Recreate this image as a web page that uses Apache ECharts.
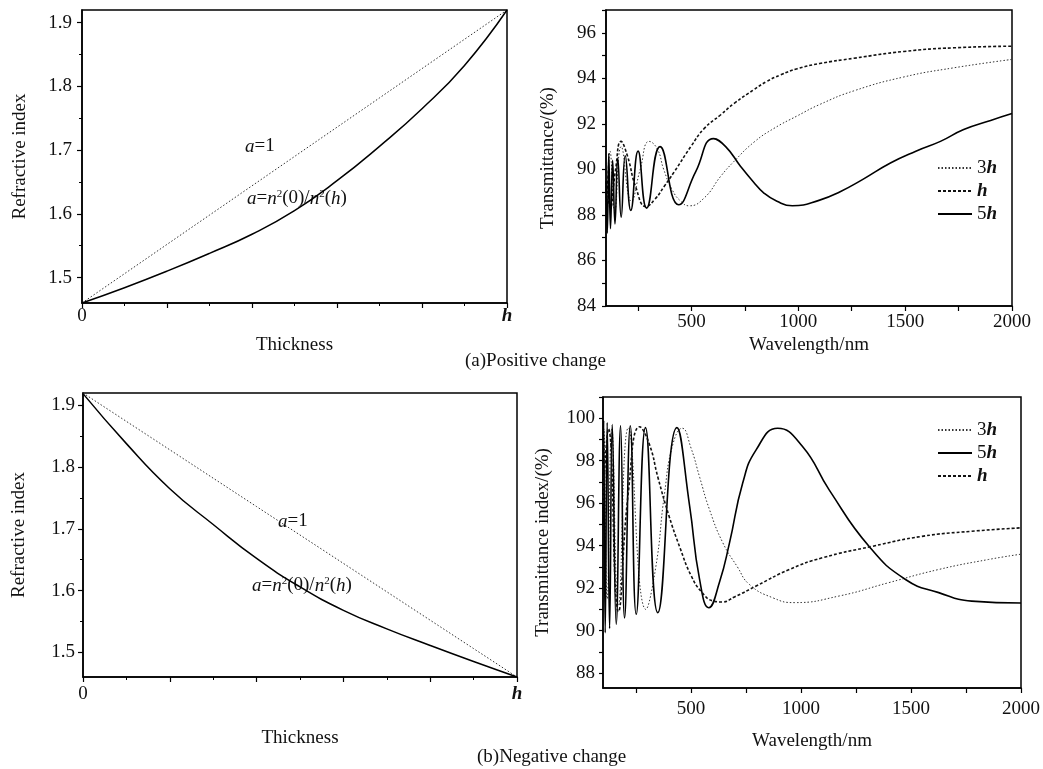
<!DOCTYPE html>
<html>
<head>
<meta charset="utf-8">
<script src="https://cdn.jsdelivr.net/npm/echarts@6/dist/echarts.min.js"></script>
<style>
html, body { margin: 0; padding: 0; background: #fff; }
#chart { width: 1043px; height: 769px; }
</style>
</head>
<body>
<div id="chart"></div>
<script>
// refractive index profiles, thickness as fraction of h
const thickness = [0, 0.1, 0.2, 0.3, 0.4, 0.5, 0.6, 0.7, 0.8, 0.9, 1]
const nLinearUp = [1.46, 1.506, 1.552, 1.598, 1.644, 1.69, 1.736, 1.782, 1.828, 1.874, 1.92]
const nGradedUp = [1.46, 1.484, 1.51, 1.538, 1.568, 1.605, 1.652, 1.706, 1.765, 1.833, 1.92]
const nLinearDown = [1.92, 1.874, 1.828, 1.782, 1.736, 1.69, 1.644, 1.598, 1.552, 1.506, 1.46]
const nGradedDown = [1.919, 1.838, 1.765, 1.707, 1.652, 1.606, 1.568, 1.538, 1.511, 1.485, 1.46]

// (a) positive change, transmittance spectra
const wlPos5h = [100, 106, 113, 121, 131, 142, 155, 171, 190, 216, 250, 290, 353, 440, 520, 603, 660, 730, 790, 839, 900, 972, 1100, 1198, 1300, 1431, 1550, 1665, 1774, 1900, 2000]
const tPos5h = [89.5, 87.2, 90.7, 87.4, 90.4, 87.6, 90.5, 87.9, 90.6, 88.2, 90.8, 88.3, 91.0, 88.45, 89.9, 91.35, 91.0, 90.13, 89.45, 88.96, 88.6, 88.4, 88.65, 89.03, 89.55, 90.28, 90.8, 91.23, 91.75, 92.15, 92.45]
const wlPos3h = [100, 104, 119, 141, 171, 219, 260, 302, 340, 370, 410, 450, 489, 560, 637, 699, 793, 886, 995, 1100, 1260, 1494, 1727, 2000]
const tPos3h = [89.5, 88.0, 90.8, 88.2, 91.0, 88.6, 90.0, 91.23, 90.9, 90.0, 89.1, 88.6, 88.4, 88.75, 89.7, 90.35, 91.2, 91.8, 92.35, 92.85, 93.45, 94.06, 94.46, 94.83]
const wlPos1h = [100, 121, 145, 170, 200, 240, 287, 330, 372, 420, 497, 560, 637, 700, 792, 850, 917, 995, 1100, 1260, 1494, 1727, 2000]
const tPos1h = [90.6, 88.3, 90.0, 91.23, 90.6, 89.2, 88.37, 88.7, 89.25, 89.9, 91.0, 91.8, 92.4, 92.9, 93.5, 93.85, 94.15, 94.42, 94.65, 94.88, 95.18, 95.34, 95.41]

// (b) negative change, transmittance spectra
const wlNeg5h = [100, 103, 110, 119, 130, 142, 160, 180, 198, 224, 251, 293, 349, 436, 494, 539, 581, 630, 675, 735, 796, 894, 1007, 1128, 1309, 1475, 1626, 1776, 2000]
const tNeg5h = [95.0, 99.9, 89.9, 99.8, 90.1, 99.7, 90.3, 99.65, 90.6, 99.65, 90.77, 99.56, 90.85, 99.56, 95.85, 92.41, 91.08, 92.3, 94.13, 96.95, 98.51, 99.53, 98.67, 96.63, 93.97, 92.41, 91.79, 91.39, 91.3]
const wlNeg3h = [100, 104, 119, 140, 170, 215, 295, 340, 379, 417, 460, 500, 540, 584, 645, 711, 765, 871, 969, 1173, 1399, 1626, 1852, 2000]
const tNeg3h = [95.0, 99.5, 91.5, 99.5, 91.2, 99.55, 91.0, 93.0, 96.4, 98.75, 99.53, 98.6, 97.2, 95.7, 94.13, 93.0, 92.18, 91.55, 91.32, 91.63, 92.26, 92.88, 93.35, 93.6]
const wlNeg1h = [100, 125, 170, 215, 267, 310, 350, 400, 450, 500, 550, 600, 640, 700, 796, 947, 1097, 1324, 1550, 1776, 2000]
const tNeg1h = [96.0, 99.5, 90.9, 96.5, 99.6, 98.8, 97.2, 95.4, 93.9, 92.6, 91.8, 91.4, 91.35, 91.6, 92.1, 92.88, 93.43, 93.97, 94.44, 94.68, 94.84]

// tick values
const nLabels = [1.5, 1.6, 1.7, 1.8, 1.9]
const nMinor = [1.55, 1.65, 1.75, 1.85]
const wlLabels = [500, 1000, 1500, 2000]
const wlTicks = [250, 500, 750, 1000, 1250, 1500, 1750, 2000]
const tPosLabels = [84, 86, 88, 90, 92, 94, 96]
const tPosTicks = [84, 85, 86, 87, 88, 89, 90, 91, 92, 93, 94, 95, 96, 97]
const tNegLabels = [88, 90, 92, 94, 96, 98, 100]
const tNegTicks = [88, 89, 90, 91, 92, 93, 94, 95, 96, 97, 98, 99, 100, 101]

const FONT = 'Liberation Serif'
const INK = '#111'

const zip = (xs, ys) => xs.map((x, i) => [x, ys[i]])

const line = { lineStyle: { color: '#000', width: 1.5 } }
const label = (margin) => ({ color: INK, fontFamily: FONT, fontSize: 19, margin })
const nameStyle = { color: INK, fontFamily: FONT, fontSize: 19 }

function thickAxis(gridIndex, gap, margin) {
  return {
    type: 'value', gridIndex, min: 0, max: 1, interval: 0.2,
    axisLine: line,
    axisTick: { length: 5, lineStyle: { color: '#000', width: 1.2 } },
    minorTick: { show: true, splitNumber: 2, length: 3, lineStyle: { color: '#000', width: 1 } },
    splitLine: { show: false },
    axisLabel: Object.assign(label(margin), {
      formatter: v => v === 0 ? '0' : (v === 1 ? '{h|h}' : ''),
      rich: { h: { fontFamily: FONT, fontSize: 19, fontStyle: 'italic', fontWeight: 'bold', color: INK } }
    }),
    name: 'Thickness', nameLocation: 'middle', nameGap: gap, nameTextStyle: nameStyle
  }
}

function wlAxis(gridIndex, gap, margin) {
  return {
    type: 'value', gridIndex, min: 100, max: 2000,
    axisLine: line,
    axisTick: { customValues: wlTicks, length: 5, lineStyle: { color: '#000', width: 1.2 } },
    splitLine: { show: false },
    axisLabel: Object.assign(label(margin), { customValues: wlLabels, formatter: v => String(v) }),
    name: 'Wavelength/nm', nameLocation: 'middle', nameGap: gap, nameTextStyle: nameStyle
  }
}

function nAxis(gridIndex, gap, margin) {
  return {
    type: 'value', gridIndex, min: 1.46, max: 1.92,
    axisLine: line,
    axisTick: { customValues: nLabels, length: 5, lineStyle: { color: '#000', width: 1.2 } },
    splitLine: { show: false },
    axisLabel: Object.assign(label(margin), { customValues: nLabels, formatter: v => v.toFixed(1) }),
    name: 'Refractive index', nameLocation: 'middle', nameGap: gap, nameTextStyle: nameStyle
  }
}

function nMinorAxis(gridIndex) {
  return {
    type: 'value', gridIndex, min: 1.46, max: 1.92, position: 'left',
    axisLine: { show: false },
    axisTick: { customValues: nMinor, length: 3, lineStyle: { color: '#000', width: 1 } },
    axisLabel: { show: false },
    splitLine: { show: false }
  }
}

function tAxis(gridIndex, min, max, labels, ticks, name, gap, margin) {
  return {
    type: 'value', gridIndex, min, max,
    axisLine: line,
    axisTick: { customValues: ticks, length: 4, lineStyle: { color: '#000', width: 1.2 } },
    splitLine: { show: false },
    axisLabel: Object.assign(label(margin), { customValues: labels, formatter: v => String(v) }),
    name, nameLocation: 'middle', nameGap: gap, nameTextStyle: nameStyle
  }
}

const dotted = { color: '#333', width: 1, type: [1.5, 2] }
const dashed = { color: '#111', width: 1.6, type: [3, 2] }
const solid = { color: '#000', width: 1.6, type: 'solid' }

function curve(name, xi, yi, data, style, smooth) {
  return {
    type: 'line', name, xAxisIndex: xi, yAxisIndex: yi, data,
    symbol: 'none', smooth: smooth, color: '#000',
    lineStyle: style, silent: true, animation: false
  }
}

const legendRich = {
  n: { fontFamily: FONT, fontSize: 19, color: INK },
  i: { fontFamily: FONT, fontSize: 19, color: INK, fontStyle: 'italic', fontWeight: 'bold' }
}
const legendName = name => name === 'h' ? '{i|h}' : '{n|' + name[0] + '}{i|h}'
function legendAt(top, names) {
  return {
    orient: 'vertical', left: 932, top, itemWidth: 34, itemHeight: 12, itemGap: 1,
    data: names, formatter: legendName, selectedMode: false,
    itemStyle: { opacity: 0 },
    textStyle: { fontFamily: FONT, fontSize: 19, color: INK, lineHeight: 22, rich: legendRich }
  }
}

const textRich = {
  i: { fontFamily: FONT, fontSize: 19, fontStyle: 'italic', fill: INK },
  s: { fontFamily: FONT, fontSize: 11, verticalAlign: 'top', fill: INK }
}
function note(x, y, text) {
  return { type: 'text', left: x, top: y, silent: true,
    style: { text, fontFamily: FONT, fontSize: 19, fill: INK, rich: textRich } }
}
const formula = '{i|a}={i|n}{s|2}(0)/{i|n}{s|2}({i|h})'

const chart = echarts.init(document.getElementById('chart'))
chart.setOption({
  backgroundColor: '#fff',
  animation: false,
  grid: [
    { left: 82, top: 10, width: 425, height: 293, show: true, borderColor: '#000', borderWidth: 1.5 },
    { left: 606, top: 10, width: 406, height: 296, show: true, borderColor: '#000', borderWidth: 1.5 },
    { left: 83, top: 393, width: 434, height: 284, show: true, borderColor: '#000', borderWidth: 1.5 },
    { left: 603, top: 397, width: 420, height: 291, show: true, borderColor: '#000', borderWidth: 1.5 }
  ],
  xAxis: [
    thickAxis(0, 33, 4),
    wlAxis(1, 30, 7),
    thickAxis(2, 52, 8),
    wlAxis(3, 44, 12)
  ],
  yAxis: [
    nAxis(0, 52, 10),
    tAxis(1, 84, 97, tPosLabels, tPosTicks, 'Transmittance/(%)', 48, 10),
    nAxis(2, 54, 8),
    tAxis(3, 87.3, 101, tNegLabels, tNegTicks, 'Transmittance index/(%)', 50, 8),
    nMinorAxis(0),
    nMinorAxis(2)
  ],
  legend: [
    legendAt(152, ['3h', 'h', '5h']),
    legendAt(414, ['3h', '5h', 'h'])
  ],
  series: [
    curve('a=1', 0, 0, zip(thickness, nLinearUp), dotted, false),
    curve('graded', 0, 0, zip(thickness, nGradedUp), { color: '#000', width: 1.5 }, true),
    curve('a=1', 2, 2, zip(thickness, nLinearDown), dotted, false),
    curve('graded', 2, 2, zip(thickness, nGradedDown), { color: '#000', width: 1.5 }, true),

    curve('3h', 1, 1, zip(wlPos3h, tPos3h), dotted, 0.5),
    curve('h', 1, 1, zip(wlPos1h, tPos1h), dashed, 0.5),
    curve('5h', 1, 1, zip(wlPos5h, tPos5h), solid, 0.5),

    curve('3h', 3, 3, zip(wlNeg3h, tNeg3h), dotted, 0.5),
    curve('5h', 3, 3, zip(wlNeg5h, tNeg5h), solid, 0.5),
    curve('h', 3, 3, zip(wlNeg1h, tNeg1h), dashed, 0.5)
  ],
  graphic: [
    note(245, 137, '{i|a}=1'),
    note(247, 189, formula),
    note(278, 512, '{i|a}=1'),
    note(252, 576, formula),
    { type: 'text', left: 465, top: 352, silent: true,
      style: { text: '(a)Positive change', fontFamily: FONT, fontSize: 19, fill: INK } },
    { type: 'text', left: 477, top: 748, silent: true,
      style: { text: '(b)Negative change', fontFamily: FONT, fontSize: 19, fill: INK } }
  ]
})
</script>
</body>
</html>
